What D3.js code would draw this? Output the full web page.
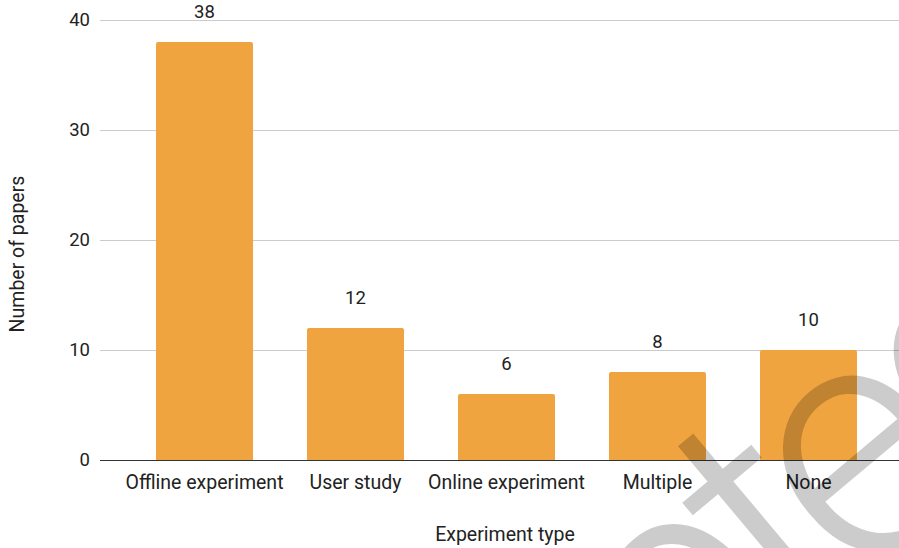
<!DOCTYPE html>
<html>
<head>
<meta charset="utf-8">
<script src="https://cdn.jsdelivr.net/npm/d3@7"></script>
<style>
  html, body { margin: 0; padding: 0; background: #fff; }
  svg { display: block; font-family: Roboto, "Liberation Sans", Arial, sans-serif; }
</style>
</head>
<body>
<svg id="chart" width="899" height="548"></svg>
<script>
// Papers per experiment type
const categories = ["Offline experiment", "User study", "Online experiment", "Multiple", "None"];
const paperCounts = [38, 12, 6, 8, 10];
const yTicks = [0, 10, 20, 30, 40];

const plot = { left: 100, right: 899, top: 20, bottom: 460 };
const FONT = "Roboto, sans-serif";
const TEXT = "#222";

const svg = d3.select("#chart");

const x = d3.scaleBand()
  .domain(categories)
  .range([100, 913])
  .paddingInner(0.3576)
  .paddingOuter(0.371);

const y = d3.scaleLinear()
  .domain([0, 40])
  .range([plot.bottom, plot.top]);

// horizontal gridlines
svg.append("g")
  .selectAll("line")
  .data(yTicks.filter(t => t !== 0))
  .join("line")
  .attr("x1", plot.left).attr("x2", plot.right)
  .attr("y1", d => y(d)).attr("y2", d => y(d))
  .attr("stroke", "#cccccc").attr("stroke-width", 1)
  .attr("shape-rendering", "crispEdges");

// y axis tick labels
const yAxis = d3.axisLeft(y).tickValues(yTicks).tickSize(0).tickPadding(10);
const gy = svg.append("g").attr("transform", `translate(${plot.left},0)`).call(yAxis);
gy.select(".domain").remove();
gy.selectAll("text").attr("font-size", 18.5).attr("fill", TEXT).attr("font-family", FONT);

const rows = categories.map((c, i) => ({ c, v: paperCounts[i] }));

// bars with slightly rounded tops
svg.append("g")
  .selectAll("path")
  .data(rows)
  .join("path")
  .attr("fill", "#f0a43f")
  .attr("d", d => {
    const x0 = x(d.c), w = x.bandwidth(), y0 = y(d.v), y1 = y(0), r = 2;
    return `M${x0},${y1}V${y0 + r}Q${x0},${y0} ${x0 + r},${y0}H${x0 + w - r}Q${x0 + w},${y0} ${x0 + w},${y0 + r}V${y1}Z`;
  });

// value labels above bars
svg.append("g")
  .selectAll("text")
  .data(rows)
  .join("text")
  .attr("x", d => x(d.c) + x.bandwidth() / 2)
  .attr("y", d => y(d.v) - 24)
  .attr("text-anchor", "middle")
  .attr("font-size", 18.5)
  .attr("font-family", FONT)
  .attr("fill", TEXT)
  .text(d => d.v);

// baseline
svg.append("line")
  .attr("x1", plot.left).attr("x2", plot.right)
  .attr("y1", y(0)).attr("y2", y(0))
  .attr("stroke", "#333").attr("stroke-width", 1)
  .attr("shape-rendering", "crispEdges");

// x axis category labels
const xAxis = d3.axisBottom(x).tickSize(0).tickPadding(15);
const gx = svg.append("g").attr("transform", `translate(0,${y(0)})`).call(xAxis);
gx.select(".domain").remove();
gx.selectAll("text").attr("font-size", 19.5).attr("fill", TEXT).attr("font-family", FONT);

// axis titles
svg.append("text")
  .attr("x", 505).attr("y", 541)
  .attr("text-anchor", "middle")
  .attr("font-size", 19.5).attr("font-family", FONT).attr("fill", TEXT)
  .text("Experiment type");

svg.append("text")
  .attr("transform", "translate(24,254) rotate(-90)")
  .attr("text-anchor", "middle")
  .attr("font-size", 19.5).attr("font-family", FONT).attr("fill", TEXT)
  .text("Number of papers");

// diagonal watermark
svg.append("text")
  .attr("transform", "translate(1089,396) rotate(-40)")
  .attr("text-anchor", "end")
  .attr("font-size", 340)
  .attr("font-weight", 300)
  .attr("letter-spacing", -30)
  .attr("font-family", FONT)
  .attr("fill", "#000")
  .attr("fill-opacity", 0.2)
  .text("Accepted");
</script>
</body>
</html>
